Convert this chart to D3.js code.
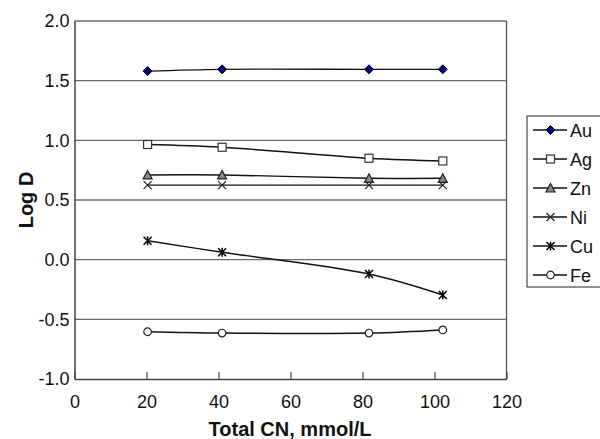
<!DOCTYPE html>
<html>
<head>
<meta charset="utf-8">
<script src="https://cdn.jsdelivr.net/npm/d3@7"></script>
<style>
  html, body { margin: 0; padding: 0; background: #fff; }
  svg { display: block; font-family: "Liberation Sans", Arial, sans-serif; }
</style>
</head>
<body>
<svg id="chart" width="600" height="439"></svg>
<script>
// ---- data ----
const cn = [20.3, 41, 81.8, 102.3];
const seriesNames = ["Au", "Ag", "Zn", "Ni", "Cu", "Fe"];
const au = [1.58, 1.595, 1.595, 1.595];
const ag = [0.965, 0.942, 0.85, 0.827];
const zn = [0.71, 0.71, 0.682, 0.682];
const ni = [0.625, 0.625, 0.625, 0.625];
const cu = [0.159, 0.062, -0.12, -0.296];
const fe = [-0.604, -0.615, -0.615, -0.589];
const xTicks = [0, 20, 40, 60, 80, 100, 120];
const yTicks = [-1.0, -0.5, 0.0, 0.5, 1.0, 1.5, 2.0];

const seriesValues = [au, ag, zn, ni, cu, fe];
const markers = ["diamond", "square", "triangle", "cross", "asterisk", "circle"];

const svg = d3.select("#chart");
const x = d3.scaleLinear().domain([0, 120]).range([74.5, 506.5]);
const y = d3.scaleLinear().domain([-1, 2]).range([379, 21]);

// gridlines
svg.append("g").selectAll("line").data(yTicks.filter(d => d > -1))
  .join("line")
  .attr("x1", x(0)).attr("x2", x(120))
  .attr("y1", d => y(d)).attr("y2", d => y(d))
  .attr("stroke", "#6a6a6a").attr("stroke-width", 1.3);

// right border
svg.append("line")
  .attr("x1", x(120)).attr("x2", x(120)).attr("y1", y(2)).attr("y2", y(-1))
  .attr("stroke", "#555").attr("stroke-width", 1.3);

// axes
const xAxis = d3.axisBottom(x).tickValues(xTicks).tickSizeInner(-7).tickSizeOuter(0)
  .tickFormat(d3.format("d")).tickPadding(16);
const gx = svg.append("g").attr("transform", `translate(0,${y(-1)})`).call(xAxis);
gx.select(".domain").attr("stroke", "#444").attr("stroke-width", 1.5);
gx.selectAll(".tick line").attr("stroke", "#444").attr("stroke-width", 1.2);
gx.selectAll(".tick text").attr("font-size", 18).attr("fill", "#111")
  .attr("font-family", "Liberation Sans, Arial, sans-serif");

const yAxis = d3.axisLeft(y).tickValues(yTicks).tickSizeInner(0).tickSizeOuter(0)
  .tickFormat(d3.format(".1f")).tickPadding(5);
const gy = svg.append("g").attr("transform", `translate(${x(0)},0)`).call(yAxis);
gy.select(".domain").attr("stroke", "#444").attr("stroke-width", 1.5);
gy.selectAll(".tick text").attr("font-size", 18).attr("fill", "#111")
  .attr("font-family", "Liberation Sans, Arial, sans-serif")
  .text(d => d3.format(".1f")(d).replace("−", "-"));

// axis titles
svg.append("text").attr("x", 290).attr("y", 436).attr("text-anchor", "middle")
  .attr("font-size", 20).attr("font-weight", "bold").attr("fill", "#111")
  .text("Total CN, mmol/L");
svg.append("text").attr("transform", "translate(33,200) rotate(-90)")
  .attr("text-anchor", "middle").attr("font-size", 20).attr("font-weight", "bold")
  .attr("fill", "#111").text("Log D");

// marker drawing
function drawMarker(g, type) {
  if (type === "diamond") {
    g.append("path").attr("d", "M0,-4.5L4.5,0L0,4.5L-4.5,0Z")
      .attr("fill", "#000080").attr("stroke", "#000").attr("stroke-width", 1);
  } else if (type === "square") {
    g.append("rect").attr("x", -4).attr("y", -4).attr("width", 8).attr("height", 8)
      .attr("fill", "#fff").attr("stroke", "#333").attr("stroke-width", 1.2);
  } else if (type === "triangle") {
    g.append("path").attr("d", "M0,-4.5L4.5,4L-4.5,4Z")
      .attr("fill", "#888").attr("stroke", "#222").attr("stroke-width", 1.2);
  } else if (type === "cross") {
    g.append("path").attr("d", "M-4,-4L4,4M-4,4L4,-4")
      .attr("stroke", "#222").attr("stroke-width", 1.2).attr("fill", "none");
  } else if (type === "asterisk") {
    g.append("path").attr("d", "M-4,-4L4,4M-4,4L4,-4M0,-4.5L0,4.5")
      .attr("stroke", "#000").attr("stroke-width", 1.5).attr("fill", "none");
  } else if (type === "circle") {
    g.append("circle").attr("r", 3.8)
      .attr("fill", "#fff").attr("stroke", "#222").attr("stroke-width", 1.2);
  }
}

const line = d3.line().curve(d3.curveCatmullRom.alpha(0.5))
  .x((d, i) => x(cn[i])).y(d => y(d));

seriesValues.forEach((vals, si) => {
  svg.append("path").datum(vals).attr("d", line)
    .attr("fill", "none").attr("stroke", "#111").attr("stroke-width", 1.4);
  vals.forEach((v, i) => {
    const g = svg.append("g").attr("transform", `translate(${x(cn[i])},${y(v)})`);
    drawMarker(g, markers[si]);
  });
});

// legend
const legTop = 116, legStep = 29, legFirst = 130;
svg.append("rect").attr("x", 527).attr("y", legTop).attr("width", 90)
  .attr("height", 171).attr("fill", "#fff").attr("stroke", "#222").attr("stroke-width", 1);
seriesNames.forEach((name, i) => {
  const cy = legFirst + i * legStep;
  svg.append("line").attr("x1", 533).attr("x2", 567).attr("y1", cy).attr("y2", cy)
    .attr("stroke", "#111").attr("stroke-width", 1.4);
  drawMarker(svg.append("g").attr("transform", `translate(550.5,${cy})`), markers[i]);
  svg.append("text").attr("x", 570).attr("y", cy + 6.5).attr("font-size", 18)
    .attr("fill", "#111").text(name);
});
</script>
</body>
</html>
